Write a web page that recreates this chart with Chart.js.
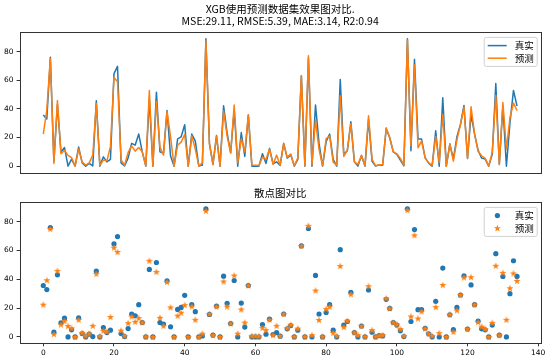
<!DOCTYPE html>
<html><head><meta charset="utf-8">
<script src="https://cdn.jsdelivr.net/npm/chart.js@4.4.0/dist/chart.umd.min.js"></script>
<style>
html,body{margin:0;padding:0;background:#fff;}
#wrap{position:relative;width:555px;height:362px;}
canvas{position:absolute;left:0;}
#c1{top:0}
#c2{top:180px}
</style></head><body>
<div id="wrap"><canvas id="c1" width="555" height="180"></canvas><canvas id="c2" width="555" height="182"></canvas></div>
<script>
const titleLines = ['XGB使用预测数据集效果图对比.', 'MSE:29.11, RMSE:5.39, MAE:3.14, R2:0.94'];
const subTitle = '散点图对比';
const seriesNames = ['真实', '预测'];

const actual = [
  35.7, 32.9, 76, 3.3, 43.1, 9.8, 13, 0, 4.9, 0,
  13.3, 2.3, 0, 1.9, 0.2, 45.7, 0, 6.5, 3, 4.7,
  64.6, 69.7, 2.3, 0.2, 5.8, 15.9, 14.7, 22.4, 10, 0,
  46.9, 0, 51.7, 10, 8.9, 38.9, 7, 0, 19.1, 20.5,
  28.9, 0, 22.4, 17.5, 0, 0.7, 89, 15.6, 1.2, 21.4,
  0, 42.2, 23.3, 9.3, 39.2, 0, 23.5, 6.8, 35.7, 0,
  0, 0, 8.6, 1.9, 12.4, 1.6, 3, 0.5, 15.9, 5.6,
  7.9, 0, 4.7, 63.2, 0, 75.3, 0, 42.7, 15.9, 0,
  17, 22.4, 4.7, 0, 60.6, 8.2, 10.7, 31, 3, 0,
  7.5, 0, 32.6, 3.3, 0, 0.9, 0.7, 26.1, 19.8, 10,
  8.2, 4.2, 0.2, 89, 10.7, 74.6, 18.9, 18.9, 6, 2.1,
  0, 24.7, 0, 47.8, 0, 15.4, 5.1, 20.5, 29.1, 42.4,
  5.4, 36.1, 22.4, 11, 5.6, 4.9, 0, 8.2, 57.8, 1.2,
  42, 0, 30, 52.9, 42
];
const predicted = [
  22.4, 39.4, 75, 1.9, 45.9, 8.6, 11, 7.5, 6, 0,
  11.9, 2.8, 0.7, 2.3, 7.7, 43.8, 0.5, 4.2, 3.7, 13.8,
  62, 59, 4.4, 0.7, 9.6, 14.2, 10.5, 13, 10, 0.2,
  52.9, 0, 45.2, 13.3, 7.7, 38.2, 20.5, 0, 14.7, 16.8,
  22.1, 0, 21.2, 11.9, 0, 2.3, 87.6, 15.9, 1.2, 21,
  0, 38.5, 21, 9.3, 42.7, 2.3, 19.1, 10, 35.7, 0.7,
  0.7, 0.5, 6.3, 4.7, 11.9, 1.2, 7.7, 0.7, 15.9, 6.1,
  8.4, 0.2, 5.8, 63.2, 0.2, 77.2, 1.2, 32.2, 11.7, 0.2,
  19.3, 21, 2.8, 0.7, 49.2, 6.8, 11.2, 29.6, 3, 1.2,
  7.5, 0.2, 35.2, 4.7, 0.2, 0.9, 1.2, 26.8, 19.8, 10,
  8.6, 5.4, 0.7, 88.1, 14.2, 70.6, 12.8, 17.7, 5.8, 2.3,
  0.7, 20.7, 2.6, 36.1, 0, 15.6, 3.5, 18.4, 29.1, 41.3,
  5.4, 41.5, 22.4, 10.3, 7.2, 5.4, 0, 9.8, 49.4, 1.2,
  44.5, 11.9, 33.8, 44.1, 38.9
];
const yTicks = [0, 20, 40, 60, 80];
const xTicks = [0, 20, 40, 60, 80, 100, 120, 140];

const BLUE = '#1f77b4', ORANGE = '#ff7f0e';
const CJK = '"Noto Sans CJK SC", "Noto Sans CJK JP", sans-serif';
const tickFont = {family: '"DejaVu Sans"', size: 7.5};

// matplotlib-style 5% margins
const all = actual.concat(predicted);
const yLo = Math.min(...all), yHi = Math.max(...all), yPad = (yHi - yLo) * 0.05;
const xPad = (actual.length - 1) * 0.05;
const pts = arr => arr.map((v, i) => ({x: i, y: v}));

function starPath(g, cx, cy, R){
  const r = R * 0.4;
  g.beginPath();
  for (let k = 0; k < 10; k++){
    const a = -Math.PI / 2 + k * Math.PI / 5, rr = k % 2 ? r : R;
    g.lineTo(cx + rr * Math.cos(a), cy + rr * Math.sin(a));
  }
  g.closePath();
}
const starImg = (() => {
  const cv = document.createElement('canvas'); cv.width = cv.height = 8;
  const g = cv.getContext('2d'); g.fillStyle = ORANGE;
  starPath(g, 4, 4.2, 3.7); g.fill();
  return cv;
})();

function xScale(h, showLabels){
  return {type: 'linear', min: -xPad, max: actual.length - 1 + xPad,
    afterBuildTicks: s => { s.ticks = xTicks.map(v => ({value: v})); },
    afterFit: s => { s.height = h; },
    ticks: {display: showLabels, font: tickFont, color: '#000', padding: 2, autoSkip: false, maxRotation: 0},
    grid: {display: showLabels, drawOnChartArea: false, tickLength: 3, color: '#333'},
    border: {display: false}};
}
function yScale(){
  return {type: 'linear', min: yLo - yPad, max: yHi + yPad,
    afterBuildTicks: s => { s.ticks = yTicks.map(v => ({value: v})); },
    afterFit: s => { s.width = 19.6; },
    ticks: {font: tickFont, color: '#000', padding: 3},
    grid: {drawOnChartArea: false, tickLength: 3, color: '#333'},
    border: {display: false}};
}

const frame = {id: 'frame', afterDraw(c){
  const a = c.chartArea, g = c.ctx;
  g.save(); g.strokeStyle = '#333'; g.lineWidth = 1;
  g.strokeRect(Math.round(a.left) + 0.5, Math.round(a.top) + 0.5,
    Math.round(a.right) - Math.round(a.left), Math.round(a.bottom) - Math.round(a.top));
  g.restore();
}};

function legendBox(kind){
  return {id: 'legendBox', afterDraw(c){
    const a = c.chartArea, g = c.ctx;
    const w = 53, h = 29, x0 = a.right - 4 - w, y0 = a.top + 4.5;
    g.save();
    g.fillStyle = 'rgba(255,255,255,0.85)'; g.strokeStyle = '#d0d0d0'; g.lineWidth = 1;
    g.beginPath(); g.roundRect(x0 + 0.5, y0 + 0.5, w, h, 2); g.fill(); g.stroke();
    const rows = [y0 + 8.7, y0 + 21.3];
    [BLUE, ORANGE].forEach((col, i) => {
      const yy = rows[i];
      if (kind === 'line'){
        g.strokeStyle = col; g.lineWidth = 1.5;
        g.beginPath(); g.moveTo(x0 + 4, yy); g.lineTo(x0 + 23, yy); g.stroke();
      } else if (i === 0){
        g.fillStyle = col; g.beginPath(); g.arc(x0 + 13.7, yy, 2.6, 0, Math.PI * 2); g.fill();
      } else {
        g.fillStyle = col; starPath(g, x0 + 13.7, yy + 0.2, 3.7); g.fill();
      }
      g.fillStyle = '#000'; g.font = '9.5px ' + CJK; g.textBaseline = 'middle'; g.textAlign = 'left';
      g.fillText(seriesNames[i], x0 + 31, yy);
    });
    g.restore();
  }};
}

function titles(lines, ys){
  return {id: 'titles', afterDraw(c){
    const a = c.chartArea, g = c.ctx, cx = (a.left + a.right) / 2;
    g.save(); g.fillStyle = '#000'; g.font = '10.5px ' + CJK;
    g.textAlign = 'center'; g.textBaseline = 'middle';
    lines.forEach((t, i) => g.fillText(t, cx, ys[i]));
    g.restore();
  }};
}

const common = {responsive: false, animation: false, devicePixelRatio: 1,
  plugins: {legend: {display: false}, tooltip: {enabled: false}, title: {display: false}}};

new Chart(document.getElementById('c1'), {
  type: 'line',
  data: {datasets: [
    {label: seriesNames[0], data: pts(actual), borderColor: BLUE, borderWidth: 1.5, pointRadius: 0, tension: 0, order: 1, borderJoinStyle: 'round'},
    {label: seriesNames[1], data: pts(predicted), borderColor: ORANGE, borderWidth: 1.5, pointRadius: 0, tension: 0, order: 0, borderJoinStyle: 'round'}
  ]},
  options: Object.assign({}, common, {
    layout: {padding: {left: 0, right: 14.3, top: 32.4, bottom: 0}},
    scales: {x: xScale(6.7, false), y: yScale()}
  }),
  plugins: [frame, legendBox('line'), titles(titleLines, [9.5, 21.5])]
});

new Chart(document.getElementById('c2'), {
  type: 'scatter',
  data: {datasets: [
    {label: seriesNames[0], data: pts(actual), backgroundColor: BLUE, borderWidth: 0, pointRadius: 2.6, order: 1},
    {label: seriesNames[1], data: pts(predicted), pointStyle: starImg, pointRadius: 4, order: 0}
  ]},
  options: Object.assign({}, common, {
    layout: {padding: {left: 0, right: 14.3, top: 22.4, bottom: 0}},
    scales: {x: xScale(18.7, true), y: yScale()}
  }),
  plugins: [frame, legendBox('scatter'), titles([subTitle], [13])]
});
</script>
</body></html>
